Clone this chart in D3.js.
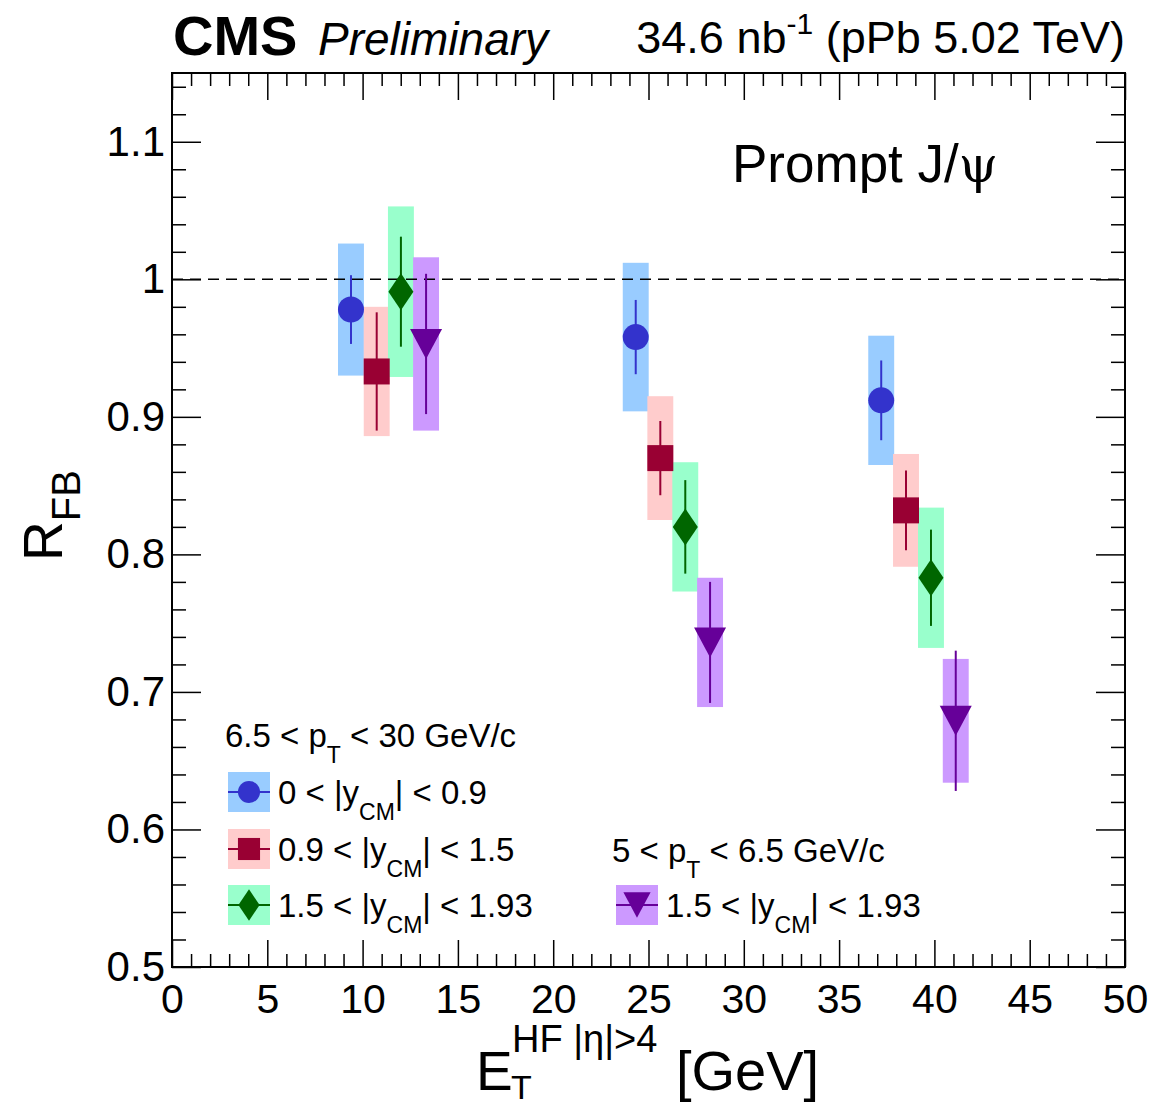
<!DOCTYPE html>
<html><head><meta charset="utf-8">
<script src="https://cdn.jsdelivr.net/npm/d3@7"></script>
<style>
body{margin:0;background:#fff}
text{font-family:"Liberation Sans",Arial,Helvetica,sans-serif;fill:#000}
</style>
</head><body>
<svg id="c" width="1157" height="1107"></svg>
<script>
// ---------------- data ----------------
const seriesNames = ["0 < |y_CM| < 0.9", "0.9 < |y_CM| < 1.5", "1.5 < |y_CM| < 1.93", "1.5 < |y_CM| < 1.93"];
// E_T^HF bin positions (GeV)
const xBlue   = [9.39, 24.33, 37.21];
const xRed    = [10.74, 25.62, 38.51];
const xGreen  = [12.01, 26.93, 39.82];
const xPurple = [13.33, 28.23, 41.12];
// R_FB values
const yBlue   = [0.978, 0.958, 0.912];
const yRed    = [0.933, 0.870, 0.832];
const yGreen  = [0.991, 0.820, 0.783];
const yPurple = [0.953, 0.736, 0.679];
// statistical uncertainties
const statBlue   = [0.025, 0.027, 0.029];
const statRed    = [0.043, 0.027, 0.029];
const statGreen  = [0.040, 0.034, 0.035];
const statPurple = [0.051, 0.044, 0.051];
// systematic uncertainties
const systBlue   = [0.048, 0.054, 0.047];
const systRed    = [0.047, 0.045, 0.041];
const systGreen  = [0.062, 0.047, 0.051];
const systPurple = [0.063, 0.047, 0.045];
const systHalfWidth = 0.68; // GeV, half width of syst box
// ticks
const xMajorTicks = [0, 5, 10, 15, 20, 25, 30, 35, 40, 45, 50];
const yMajorTicks = [0.5, 0.6, 0.7, 0.8, 0.9, 1.0, 1.1];
const yTickLabels = ["0.5", "0.6", "0.7", "0.8", "0.9", "1", "1.1"];

// ---------------- layout ----------------
const L = 172, R = 1125, T = 73, B = 967;
const svg = d3.select("#c");
const x = d3.scaleLinear().domain([0, 50]).range([L, R]);
const y = d3.scaleLinear().domain([0.5, 1.15]).range([B, T]);

const styles = [
  {box: "#99ccff", mk: "#3333cc", shape: "circle"},
  {box: "#ffcccc", mk: "#990033", shape: "square"},
  {box: "#99ffcc", mk: "#006600", shape: "diamond"},
  {box: "#cc99ff", mk: "#660099", shape: "tri"}
];
const series = [
  {x: xBlue, y: yBlue, stat: statBlue, syst: systBlue},
  {x: xRed, y: yRed, stat: statRed, syst: systRed},
  {x: xGreen, y: yGreen, stat: statGreen, syst: systGreen},
  {x: xPurple, y: yPurple, stat: statPurple, syst: systPurple}
].map((s, i) => ({...s, ...styles[i], pts: s.x.map((v, j) => ({x: v, y: s.y[j], stat: s.stat[j], syst: s.syst[j]}))}));

function markerPath(shape, k) {
  if (shape === "circle") { const r = 13*k; return `M${-r},0A${r},${r} 0 1,0 ${r},0A${r},${r} 0 1,0 ${-r},0Z`; }
  if (shape === "square") { const a = 13*k; return `M${-a},${-a}H${a}V${a}H${-a}Z`; }
  if (shape === "diamond") { const w = 12.5*k, h = 18.5*k; return `M0,${-h}L${w},0L0,${h}L${-w},0Z`; }
  const w = 16*k, h = 15*k; return `M${-w},${-h}L${w},${-h}L0,${h}Z`;
}

// syst boxes
series.forEach(s => {
  svg.append("g").selectAll("rect").data(s.pts).join("rect")
    .attr("x", d => x(d.x - systHalfWidth)).attr("width", d => x(d.x + systHalfWidth) - x(d.x - systHalfWidth))
    .attr("y", d => y(d.y + d.syst)).attr("height", d => y(d.y - d.syst) - y(d.y + d.syst))
    .attr("fill", s.box);
});

// dashed line at 1
svg.append("line").attr("x1", x(0)).attr("x2", x(50)).attr("y1", y(1)).attr("y2", y(1))
  .attr("stroke", "#000").attr("stroke-width", 1.5).attr("stroke-dasharray", "11,7");

// stat bars + markers
series.forEach(s => {
  const g = svg.append("g");
  g.selectAll("line").data(s.pts).join("line")
    .attr("x1", d => x(d.x)).attr("x2", d => x(d.x))
    .attr("y1", d => y(d.y + d.stat)).attr("y2", d => y(d.y - d.stat))
    .attr("stroke", s.mk).attr("stroke-width", 2);
  g.selectAll("path").data(s.pts).join("path")
    .attr("transform", d => `translate(${x(d.x)},${y(d.y)})`)
    .attr("d", markerPath(s.shape, 1)).attr("fill", s.mk);
});

// ---------------- axes ----------------
function clean(g) { g.select(".domain").remove(); g.selectAll(".tick line").attr("stroke", "#000").attr("stroke-width", 1.5); }
const xMinorTicks = d3.range(0, 51, 1).filter(v => v % 5 !== 0);
const yMinorTicks = d3.range(25, 58).map(i => i / 50).filter(v => Math.abs(v*10 - Math.round(v*10)) > 1e-6);

svg.append("g").attr("transform", `translate(0,${B})`)
  .call(d3.axisBottom(x).tickValues(xMajorTicks).tickSize(-27).tickPadding(17).tickFormat(d3.format("d")))
  .call(clean).call(g => g.selectAll("text").attr("font-size", 41).attr("font-family", "Liberation Sans, Arial, sans-serif"));
svg.append("g").attr("transform", `translate(0,${B})`)
  .call(d3.axisBottom(x).tickValues(xMinorTicks).tickSize(-13).tickFormat("")).call(clean);
svg.append("g").attr("transform", `translate(0,${T})`)
  .call(d3.axisTop(x).tickValues(xMajorTicks).tickSize(-27).tickFormat("")).call(clean);
svg.append("g").attr("transform", `translate(0,${T})`)
  .call(d3.axisTop(x).tickValues(xMinorTicks).tickSize(-13).tickFormat("")).call(clean);

svg.append("g").attr("transform", `translate(${L},0)`)
  .call(d3.axisLeft(y).tickValues(yMajorTicks).tickSize(-29).tickPadding(7).tickFormat((d, i) => yTickLabels[i]))
  .call(clean).call(g => g.selectAll("text").attr("font-size", 42).attr("font-family", "Liberation Sans, Arial, sans-serif"));
svg.append("g").attr("transform", `translate(${L},0)`)
  .call(d3.axisLeft(y).tickValues(yMinorTicks).tickSize(-14).tickFormat("")).call(clean);
svg.append("g").attr("transform", `translate(${R},0)`)
  .call(d3.axisRight(y).tickValues(yMajorTicks).tickSize(-29).tickFormat("")).call(clean);
svg.append("g").attr("transform", `translate(${R},0)`)
  .call(d3.axisRight(y).tickValues(yMinorTicks).tickSize(-14).tickFormat("")).call(clean);

// frame
svg.append("rect").attr("x", L).attr("y", T).attr("width", R - L).attr("height", B - T)
  .attr("fill", "none").attr("stroke", "#000").attr("stroke-width", 2);

// ---------------- texts ----------------
svg.append("text").attr("x", 173).attr("y", 55).attr("font-size", 56).attr("font-weight", "bold").text("CMS");
svg.append("text").attr("x", 318).attr("y", 55).attr("font-size", 46).attr("font-style", "italic").text("Preliminary");
const lumi = svg.append("text").attr("x", 1125).attr("y", 53).attr("font-size", 45).attr("text-anchor", "end");
lumi.append("tspan").text("34.6 nb");
lumi.append("tspan").attr("font-size", 30).attr("dy", -19).text("-1");
lumi.append("tspan").attr("dy", 19).text(" (pPb 5.02 TeV)");

const pj = svg.append("text").attr("x", 732).attr("y", 182).attr("font-size", 53);
pj.append("tspan").text("Prompt J/");
pj.append("tspan").attr("font-family", "DejaVu Serif, serif").attr("font-size", 50).text("ψ");

// y title
const yt = svg.append("text").attr("transform", "translate(62,561) rotate(-90)").attr("font-size", 55);
yt.append("tspan").text("R");
yt.append("tspan").attr("font-size", 40).attr("dy", 18).text("FB");

// x title
svg.append("text").attr("x", 476).attr("y", 1090).attr("font-size", 55).text("E");
svg.append("text").attr("x", 511).attr("y", 1099).attr("font-size", 34).text("T");
svg.append("text").attr("x", 512).attr("y", 1052).attr("font-size", 38).text("HF |η|>4");
svg.append("text").attr("x", 676).attr("y", 1090).attr("font-size", 56).text("[GeV]");

// ---------------- legend ----------------
function legendTitle(xp, yp, pre, post) {
  const t = svg.append("text").attr("x", xp).attr("y", yp).attr("font-size", 33);
  t.append("tspan").text(pre + "p");
  t.append("tspan").attr("font-size", 23).attr("dy", 16).text("T");
  t.append("tspan").attr("dy", -16).text(post);
}
legendTitle(225, 747, "6.5 < ", " < 30 GeV/c");
legendTitle(612, 862, "5 < ", " < 6.5 GeV/c");

const legendRows = [
  {s: 0, bx: 228, cy: 792, tx: 278, pre: "0 < |y", post: "| < 0.9"},
  {s: 1, bx: 228, cy: 849, tx: 278, pre: "0.9 < |y", post: "| < 1.5"},
  {s: 2, bx: 228, cy: 905, tx: 278, pre: "1.5 < |y", post: "| < 1.93"},
  {s: 3, bx: 616, cy: 905, tx: 666, pre: "1.5 < |y", post: "| < 1.93"}
];
legendRows.forEach(r => {
  const s = series[r.s];
  svg.append("rect").attr("x", r.bx).attr("y", r.cy - 20).attr("width", 42).attr("height", 40).attr("fill", s.box);
  svg.append("line").attr("x1", r.bx).attr("x2", r.bx + 42).attr("y1", r.cy).attr("y2", r.cy).attr("stroke", s.mk).attr("stroke-width", 2);
  svg.append("path").attr("transform", `translate(${r.bx + 21},${r.cy})`).attr("d", markerPath(s.shape, 0.85)).attr("fill", s.mk);
  const t = svg.append("text").attr("x", r.tx).attr("y", r.cy + 12).attr("font-size", 33);
  t.append("tspan").text(r.pre);
  t.append("tspan").attr("font-size", 23).attr("dy", 16).text("CM");
  t.append("tspan").attr("dy", -16).text(r.post);
});
</script>
</body></html>
